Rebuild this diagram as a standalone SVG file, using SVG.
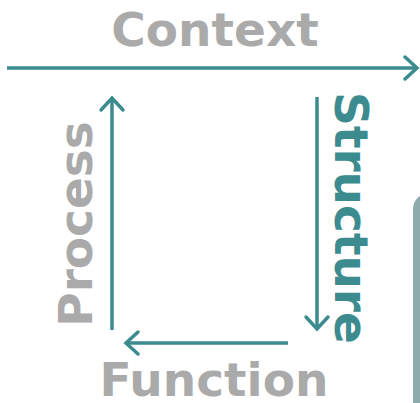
<svg xmlns="http://www.w3.org/2000/svg" width="420" height="403" viewBox="0 0 420 403">
<style>
.lbl{font-family:"DejaVu Sans",Verdana,sans-serif;font-weight:bold;font-size:47px;text-anchor:middle}
.gray{fill:#aaaaaa}
.teal{fill:#3b8b8f}
.conn{stroke:#3b8b8f;stroke-width:3.5;fill:none;marker-end:url(#chev)}
</style>
<defs>
<marker id="chev" markerUnits="userSpaceOnUse" viewBox="-16 -14 20 28" refX="0" refY="0" markerWidth="20" markerHeight="28" orient="auto" overflow="visible">
<path d="M-12,-11 L0,0 L-12,11" fill="none" stroke="#3b8b8f" stroke-width="3.5" stroke-linecap="round" stroke-linejoin="miter"/>
</marker>
</defs>
<rect x="413" y="193" width="40" height="260" rx="16" fill="#8eacad"/>
<g id="connectors">
<line class="conn" x1="7" y1="68" x2="417" y2="68"/>
<line class="conn" x1="112" y1="330" x2="112" y2="98"/>
<line class="conn" x1="317" y1="97" x2="317" y2="329"/>
<line class="conn" x1="288" y1="343" x2="126" y2="343"/>
</g>
<g id="context"><text class="lbl gray" x="215" y="46">Context</text></g>
<g id="process"><text class="lbl gray" transform="translate(92,224) rotate(-90)">Process</text></g>
<g id="structure"><text class="lbl teal" transform="translate(335,218) rotate(90)">Structure</text></g>
<g id="function"><text class="lbl gray" x="214" y="396">Function</text></g>
</svg>
